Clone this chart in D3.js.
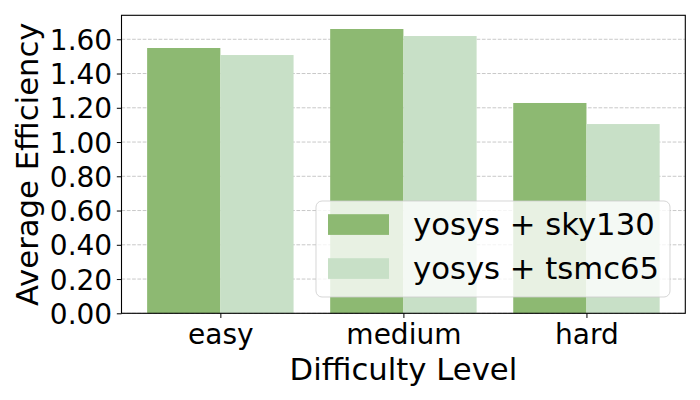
<!DOCTYPE html>
<html><head><meta charset="utf-8">
<script src="https://cdn.jsdelivr.net/npm/d3@7"></script>
<style>body{margin:0;background:#fff}svg{display:block;font-family:"DejaVu Sans",sans-serif}</style>
</head><body><svg id="c" width="700" height="400"></svg>
<script>
const categories = ["easy", "medium", "hard"];
const seriesNames = ["yosys + sky130", "yosys + tsmc65"];
const sky130 = [1.549, 1.660, 1.228];
const tsmc65 = [1.508, 1.619, 1.105];
const yTicks = [0, 0.2, 0.4, 0.6, 0.8, 1.0, 1.2, 1.4, 1.6];
const colors = ["#8db972", "#c8e0c7"];
const series = [sky130, tsmc65];

const svg = d3.select("#c");
const L = 121.5, R = 685.3, T = 15.3, B = 313.3;
const x = d3.scaleLinear().domain([-0.54, 2.54]).range([L, R]);
const y = d3.scaleLinear().domain([0, 1.74]).range([B, T]);
const bw = 0.4;

// grid
svg.append("g").selectAll("line").data(yTicks).join("line")
  .attr("x1", L).attr("x2", R).attr("y1", d => y(d)).attr("y2", d => y(d))
  .attr("stroke", "#b0b0b0").attr("stroke-opacity", 0.7).attr("stroke-width", 1)
  .attr("stroke-dasharray", "3.7,1.6");

// bars
series.forEach((vals, si) => {
  svg.append("g").selectAll("rect").data(vals).join("rect")
    .attr("x", (d, i) => x(i - bw + si * bw))
    .attr("width", x(bw) - x(0))
    .attr("y", d => y(d)).attr("height", d => y(0) - y(d))
    .attr("fill", colors[si]);
});

// axes
const yAxis = d3.axisLeft(y).tickValues(yTicks).tickFormat(d3.format(".2f")).tickSize(4.67).tickPadding(4.67);
const gy = svg.append("g").attr("transform", `translate(${L},0)`).call(yAxis);
const xAxis = d3.axisBottom(x).tickValues([0, 1, 2]).tickFormat(i => categories[i]).tickSize(4.67).tickPadding(4.67);
const gx = svg.append("g").attr("transform", `translate(0,${B})`).call(xAxis);
[gx, gy].forEach(g => {
  g.select(".domain").remove();
  g.selectAll("line").attr("stroke", "#000").attr("stroke-width", 1);
  g.selectAll("text").attr("font-family", "DejaVu Sans").attr("font-size", 28).attr("fill", "#000");
});
gx.selectAll("text").attr("y", 31).attr("dy", 0);
gy.selectAll("text").attr("dy", "0.36em");

// frame
svg.append("rect").attr("x", L).attr("y", T).attr("width", R - L).attr("height", B - T)
  .attr("fill", "none").attr("stroke", "#000").attr("stroke-width", 1.1);

// labels
svg.append("text").attr("x", (L + R) / 2).attr("y", 380).attr("text-anchor", "middle")
  .attr("font-size", 30.7).attr("fill", "#000").text("Difficulty Level");
svg.append("text").attr("transform", `translate(38,${(T + B) / 2}) rotate(-90)`).attr("text-anchor", "middle")
  .attr("font-size", 30.7).attr("fill", "#000").text("Average Efficiency");

// legend
const lg = svg.append("g");
lg.append("rect").attr("x", 316).attr("y", 201).attr("width", 354).attr("height", 96)
  .attr("rx", 6).attr("fill", "#fff").attr("fill-opacity", 0.8)
  .attr("stroke", "#cccccc").attr("stroke-opacity", 0.8).attr("stroke-width", 1);
seriesNames.forEach((n, i) => {
  const cy = 224.5 + i * 44;
  lg.append("rect").attr("x", 328).attr("y", cy - 10.3).attr("width", 61).attr("height", 20.7).attr("fill", colors[i]);
  lg.append("text").attr("x", 413).attr("y", 235 + i * 44).attr("font-size", 30.7).attr("fill", "#000").text(n);
});
</script></body></html>
